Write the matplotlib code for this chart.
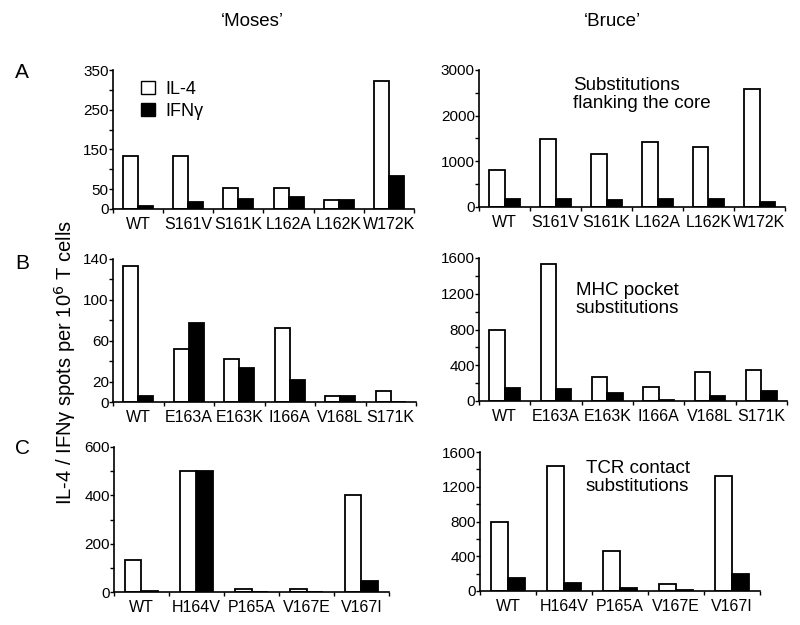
import numpy as np
import matplotlib.pyplot as plt

plt.rcParams['font.family'] = ['Liberation Sans', 'DejaVu Sans']

# peptide variants
cats_a = ['WT', 'S161V', 'S161K', 'L162A', 'L162K', 'W172K']
cats_b = ['WT', 'E163A', 'E163K', 'I166A', 'V168L', 'S171K']
cats_c = ['WT', 'H164V', 'P165A', 'V167E', 'V167I']

# 'Moses'
moses_a_il4 = [133, 133, 54, 54, 22, 322]
moses_a_ifn = [7, 18, 24, 29, 22, 84]
moses_b_il4 = [133, 52, 42, 72, 6, 11]
moses_b_ifn = [6, 77, 33, 22, 6, 0]
moses_c_il4 = [133, 500, 14, 14, 400]
moses_c_ifn = [5, 500, 0, 0, 45]

# 'Bruce'
bruce_a_il4 = [810, 1480, 1150, 1430, 1320, 2580]
bruce_a_ifn = [175, 175, 145, 175, 175, 100]
bruce_b_il4 = [800, 1530, 265, 155, 330, 350]
bruce_b_ifn = [150, 130, 85, 15, 55, 110]
bruce_c_il4 = [800, 1440, 460, 80, 1320]
bruce_c_ifn = [150, 90, 40, 15, 190]


def rect(l, r, t, b):
    return [l / 800, 1 - b / 625, (r - l) / 800, (b - t) / 625]


def panel(pos, cats, il4, ifn, ymax, major, minor):
    ax = fig.add_axes(rect(*pos))
    n = len(cats)
    x = np.arange(n) + 0.5
    w = 0.3
    ax.bar(x - w / 2, il4, w, color='white', edgecolor='black', linewidth=1.3)
    ax.bar(x + w / 2, ifn, w, color='black', edgecolor='black', linewidth=1.3)
    ax.set_xlim(0, n)
    ax.set_ylim(0, ymax)
    ax.spines['top'].set_visible(False)
    ax.spines['right'].set_visible(False)
    ax.spines['left'].set_linewidth(1.2)
    ax.spines['bottom'].set_linewidth(1.2)
    ax.set_xticks(np.arange(n + 1))
    ax.set_xticklabels([])
    ax.set_xticks(x, cats, minor=True)
    ax.tick_params(axis='x', which='major', direction='out', length=3, width=1)
    ax.tick_params(axis='x', which='minor', length=0, pad=6, labelsize=11.5)
    ax.set_yticks(major)
    ax.set_yticks(minor, minor=True)
    ax.tick_params(axis='y', which='both', direction='out', length=3, width=1,
                   pad=0, labelsize=11)
    return ax


fig = plt.figure(figsize=(8, 6.25), dpi=100)

ax = panel((113, 414, 70, 209), cats_a, moses_a_il4, moses_a_ifn, 350,
           [0, 50, 150, 250, 350], [100, 200, 300])
ax.bar(0, 0, color='white', edgecolor='black', label='IL-4')
ax.bar(0, 0, color='black', edgecolor='black', label='IFN\u03b3')
ax.legend(loc='upper left', bbox_to_anchor=(0.04, 1.04), frameon=False,
          fontsize=13, handlelength=0.75, handleheight=0.75,
          handletextpad=0.6, labelspacing=0.3)

panel((479, 785, 70, 207), cats_a, bruce_a_il4, bruce_a_ifn, 3000,
      [0, 1000, 2000, 3000], [500, 1500, 2500])
panel((113, 416, 259, 402), cats_b, moses_b_il4, moses_b_ifn, 140,
      [0, 20, 60, 100, 140], [40, 80, 120])
panel((479, 787, 258, 401), cats_b, bruce_b_il4, bruce_b_ifn, 1600,
      [0, 400, 800, 1200, 1600], [200, 600, 1000, 1400])
panel((114, 389, 447, 592), cats_c, moses_c_il4, moses_c_ifn, 600,
      [0, 200, 400, 600], [100, 300, 500])
panel((480, 760, 452, 591), cats_c, bruce_c_il4, bruce_c_ifn, 1600,
      [0, 400, 800, 1200, 1600], [200, 600, 1000, 1400])

fig.text(252 / 800, 1 - 22 / 625, '\u2018Moses\u2019', ha='center', va='center', fontsize=13.5)
fig.text(612 / 800, 1 - 22 / 625, '\u2018Bruce\u2019', ha='center', va='center', fontsize=13.5)

for letter, y in [('A', 73), ('B', 263), ('C', 449)]:
    fig.text(22 / 800, 1 - y / 625, letter, ha='center', va='center', fontsize=15)

fig.text(65 / 800, 1 - 362 / 625, 'IL-4 / IFN\u03b3 spots per 10$^6$ T cells',
         rotation=90, ha='center', va='center', fontsize=14.5)

fig.text(573 / 800, 1 - 77 / 625, 'Substitutions\nflanking the core',
         ha='left', va='top', fontsize=13.5, linespacing=1.1)
fig.text(576 / 800, 1 - 282 / 625, 'MHC pocket\nsubstitutions',
         ha='left', va='top', fontsize=13.5, linespacing=1.1)
fig.text(586 / 800, 1 - 460 / 625, 'TCR contact\nsubstitutions',
         ha='left', va='top', fontsize=13.5, linespacing=1.1)

fig.savefig('out.png', dpi=100)
